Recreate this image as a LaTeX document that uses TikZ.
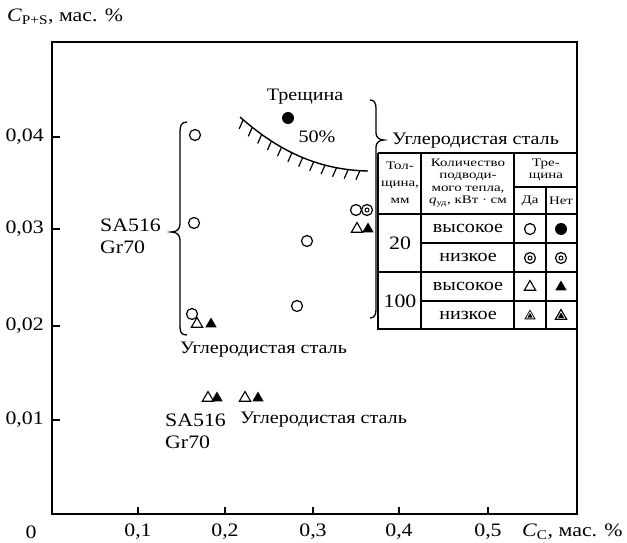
\documentclass[tikz,border=0pt]{standalone}
\usepackage{fontspec}
\setmainfont{Liberation Serif}[FakeStretch=1.15]
\newfontfamily\hdrfont{Liberation Serif}[FakeStretch=1.3]
\usetikzlibrary{shapes.geometric,decorations.markings}
\begin{document}
\begin{tikzpicture}[x=1pt,y=-1pt,
  lab/.style={inner sep=0pt, font=\fontsize{19}{22}\selectfont},
  cyr/.style={inner sep=0pt, font=\fontsize{17.5}{20}\selectfont},
  two/.style={inner sep=0pt, align=left, font=\fontsize{19}{22}\selectfont},
  hdr/.style={inner sep=0pt, align=center, font=\hdrfont\fontsize{11.5}{12.5}\selectfont},
  ocirc/.style={circle, draw, fill=white, line width=1.2pt, minimum size=11pt, inner sep=0pt},
  fcirc/.style={circle, fill, minimum size=12pt, inner sep=0pt},
  dcirc/.style={circle, draw, fill=white, line width=1.2pt, minimum size=11pt, inner sep=0pt,
    path picture={\draw[line width=1pt] (path picture bounding box.center) circle[radius=2pt];}},
  otri/.style={regular polygon, regular polygon sides=3, draw, fill=white, line width=1.1pt, minimum size=13pt, inner sep=0pt},
  ftri/.style={regular polygon, regular polygon sides=3, fill, minimum size=13pt, inner sep=0pt},
  frame/.style={line width=1.8pt},
  grid/.style={line width=1.3pt},
  tick/.style={line width=1.2pt},
  brace/.style={line width=1.3pt},
]
\useasboundingbox (0,0) rectangle (627,543);
\fill[white] (0,0) rectangle (627,543);

% frame and ticks
\draw[frame] (52,42) rectangle (577,514);
\foreach \yy in {137,229,326,420} \draw[tick] (52,\yy) -- (60,\yy);
\foreach \xx in {138,225,313,399,488} \draw[tick] (\xx,514) -- (\xx,507);

% axis labels
\node[lab, anchor=west] (ylab) at (7,17) {\textit{C}\textsubscript{P+S}, мас. \%};
\node[lab, anchor=east] (y4) at (44,137) {0,04};
\node[lab, anchor=east] (y3) at (44,229) {0,03};
\node[lab, anchor=east] (y2) at (44,326) {0,02};
\node[lab, anchor=east] (y1) at (44,420) {0,01};
\node[lab] (x0) at (31,532) {0};
\node[lab] (x1) at (138,532) {0,1};
\node[lab] (x2) at (225,532) {0,2};
\node[lab] (x3) at (313,532) {0,3};
\node[lab] (x4) at (399,532) {0,4};
\node[lab] (x5) at (488,532) {0,5};
\node[lab, anchor=west] (xlab) at (522,532) {\textit{C}\textsubscript{C}, мас. \%};

% crack boundary with hatching
\draw[line width=1.4pt,
  postaction={decorate, decoration={markings,
    mark=between positions 0.03 and 0.99 step 0.083 with {\pgftransformresetnontranslations
      \draw[line width=1.2pt] (0,0) -- (-4pt,-9pt);}}}]
  (240,117) .. controls (275,148) and (315,170) .. (368,171);
\node[cyr] (crack) at (305,97) {Трещина};
\node[cyr] (pct) at (317,137) {50\%};
\node[fcirc] (p0) at (288,118) {};

% left brace and label
\draw[brace] (187,122) .. controls (181,122) and (180,126) .. (180,132) -- (180,224)
  .. controls (180,229) and (177,232) .. (171,232)
  .. controls (177,232) and (180,235) .. (180,240) -- (180,326)
  .. controls (180,332) and (181,335) .. (187,335);
\node[two, anchor=west] (sa1) at (100,236) {SA516\\Gr70};

% right brace and heading
\draw[brace] (370,100) .. controls (374,100) and (376,103) .. (376,108) -- (376,133)
  .. controls (376,137) and (379,140) .. (384,140)
  .. controls (379,140) and (376,143) .. (376,147) -- (376,310)
  .. controls (376,315) and (374,318) .. (370,318);
\node[cyr, anchor=west] (head) at (392,141) {Углеродистая сталь};

% other labels
\node[cyr, anchor=west] (cs1) at (180,350) {Углеродистая сталь};
\node[two, anchor=west] (sa2) at (165,431) {SA516\\Gr70};
\node[cyr, anchor=west] (cs2) at (240,420) {Углеродистая сталь};

% data points
\node[ocirc] (a1) at (195,135) {};
\node[ocirc] (a2) at (194,223) {};
\node[ocirc] (a3) at (192,314) {};
\node[otri] (a4) at (197,324) {};
\node[ftri] (a5) at (211,324) {};
\node[ocirc] (b1) at (307,241) {};
\node[ocirc] (b2) at (297,306) {};
\node[ocirc] (c1) at (356,210) {};
\node[dcirc] (c2) at (367,210) {};
\node[otri] (c3) at (357,229) {};
\node[ftri] (c4) at (368,229) {};
\node[otri] (d1) at (208,398) {};
\node[ftri] (d2) at (217,398) {};
\node[otri] (d3) at (245,398) {};
\node[ftri] (d4) at (258,398) {};

% table
\draw[grid] (378,153) -- (577,153);
\draw[grid] (378,153) -- (378,329) -- (577,329);
\draw[grid] (421,153) -- (421,329);
\draw[grid] (514,153) -- (514,329);
\draw[grid] (546,187) -- (546,329);
\draw[grid] (514,187) -- (577,187);
\draw[grid] (378,214) -- (577,214);
\draw[grid] (421,243) -- (577,243);
\draw[grid] (378,272) -- (577,272);
\draw[grid] (421,301) -- (577,301);

\node[hdr, font=\hdrfont\fontsize{11.5}{17}\selectfont] (h1) at (400,183) {Тол-\\щина,\\мм};
\node[hdr] (h2) at (468,183) {Количество\\подводи-\\мого тепла,\\\textit{q}\textsubscript{уд}, кВт · см};
\node[hdr] (h3) at (546,170) {Тре-\\щина};
\node[hdr] (h4) at (530,201) {Да};
\node[hdr] (h5) at (561,201) {Нет};

\node[lab] (t20) at (400,243) {20};
\node[lab] (t100) at (400,301) {100};
\node[cyr] (r1) at (468,228) {высокое};
\node[cyr] (r2) at (468,257) {низкое};
\node[cyr] (r3) at (468,286) {высокое};
\node[cyr] (r4) at (468,315) {низкое};

\node[ocirc] (s11) at (530,229) {};
\node[fcirc] (s12) at (561,229) {};
\node[dcirc] (s21) at (530,258) {};
\node[dcirc] (s22) at (561,258) {};
\node[otri] (s31) at (530,287) {};
\node[ftri] (s32) at (561,287) {};
\node[ftri] (s41) at (530,316) {};
\node[regular polygon, regular polygon sides=3, draw=white, line width=0.7pt, minimum size=8pt, inner sep=0pt] (s41i) at (s41.center) {};
\node[otri] (s42) at (561,316) {};
\node[ftri, minimum size=7pt] (s42i) at (s42.center) {};
\end{tikzpicture}
\end{document}
